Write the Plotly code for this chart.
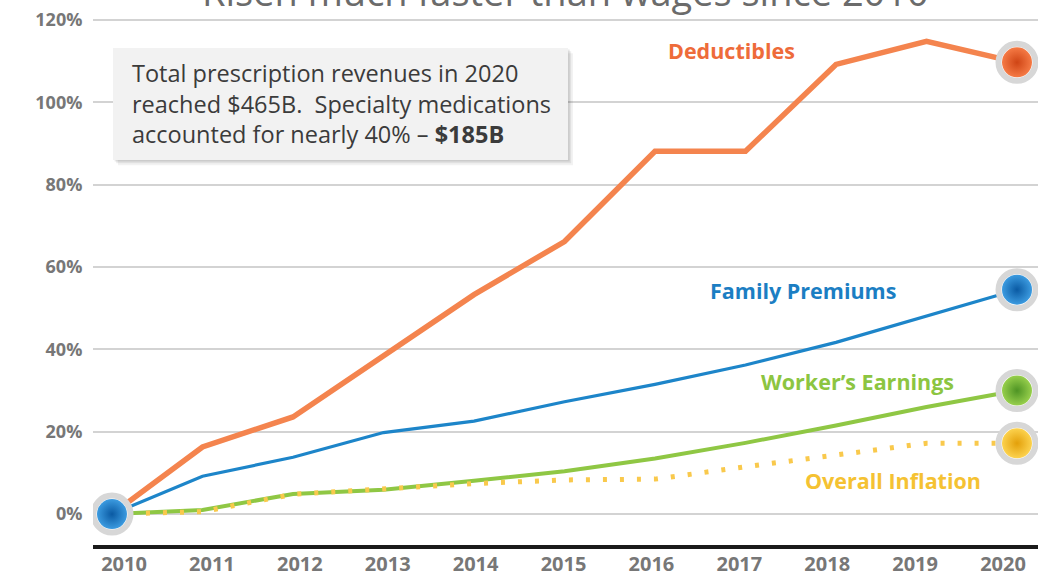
import plotly.graph_objects as go

# ---------------- data ----------------
years = [2010, 2011, 2012, 2013, 2014, 2015, 2016, 2017, 2018, 2019, 2020]
deductibles = [0, 16.3, 23.6, 38.5, 53.3, 66.2, 88.1, 88.1, 109.2, 114.8, 109.7]
family_premiums = [0, 9.2, 13.8, 19.8, 22.6, 27.3, 31.5, 36.2, 41.7, 48.2, 54.5]
workers_earnings = [0, 1.0, 4.9, 5.9, 8.1, 10.4, 13.5, 17.3, 21.5, 26.0, 30.0]
overall_inflation = [0, 0.6, 4.8, 6.2, 7.4, 8.3, 8.5, 11.5, 14.5, 17.2, 17.2]

y_tick_vals = [0, 20, 40, 60, 80, 100, 120]
y_tick_text = ["0%", "20%", "40%", "60%", "80%", "100%", "120%"]
x_tick_text = [str(y) for y in years]

series_names = ["Deductibles", "Family Premiums", "Worker\u2019s Earnings", "Overall Inflation"]

title_text = "Risen much faster than wages since 2010"
box_lines = [
    "Total prescription revenues in 2020",
    "reached $465B.  Specialty medications",
    "accounted for nearly 40% \u2013 <b>$185B</b>",
]

# ---------------- styles ----------------
ORANGE = "#F4844E"
BLUE = "#1D85C9"
GREEN = "#8FC744"
YELLOW = "#F9C94C"
FONT = "Open Sans"

fig = go.Figure()

fig.add_trace(go.Scatter(x=years, y=deductibles, mode="lines",
                         line=dict(color=ORANGE, width=5.5), hoverinfo="skip"))
fig.add_trace(go.Scatter(x=years, y=family_premiums, mode="lines",
                         line=dict(color=BLUE, width=3.2), hoverinfo="skip"))
fig.add_trace(go.Scatter(x=years, y=workers_earnings, mode="lines",
                         line=dict(color=GREEN, width=4), hoverinfo="skip"))
fig.add_trace(go.Scatter(x=years, y=overall_inflation, mode="lines",
                         line=dict(color=YELLOW, width=5, dash="4px,13px"),
                         hoverinfo="skip"))

# carrier (draws nothing) so the year-label axis is rendered
fig.add_trace(go.Scatter(x=years, y=[None] * len(years), mode="lines",
                         xaxis="x2", yaxis="y", hoverinfo="skip",
                         line=dict(width=0)))

# end-point "ball" markers
balls = [
    (years[0], family_premiums[0], "#3C9BE0", "#0A5AA3"),
    (years[-1], deductibles[-1], "#F57A45", "#CF4515"),
    (years[-1], family_premiums[-1], "#3C9BE0", "#0A5AA3"),
    (years[-1], workers_earnings[-1], "#97CF4C", "#4E9424"),
    (years[-1], overall_inflation[-1], "#FCD24E", "#E3A00A"),
]
for bx, by, c_in, c_out in balls:
    fig.add_trace(go.Scatter(
        x=[bx], y=[by], mode="markers", hoverinfo="skip",
        marker=dict(size=37, color="white", line=dict(color="#D7D7D7", width=6))))
    fig.add_trace(go.Scatter(
        x=[bx], y=[by], mode="markers", hoverinfo="skip",
        marker=dict(size=30, color=c_in, line=dict(width=0),
                    gradient=dict(type="radial", color=c_out))))

# info box (shadow + box) in data coordinates
shapes = []
bx0, bx1, by0, by1 = 2010.011, 2015.039, 86.0, 113.2
for dx, dy, op in [(0.055, -1.3, 0.05), (0.035, -0.8, 0.07), (0.018, -0.4, 0.09)]:
    shapes.append(dict(type="rect", xref="x", yref="y", layer="above",
                       x0=bx0 + dx, x1=bx1 + dx, y0=by0 + dy, y1=by1 + dy,
                       fillcolor=f"rgba(0,0,0,{op})", line=dict(width=0)))
shapes.append(dict(type="rect", xref="x", yref="y", layer="above",
                   x0=bx0, x1=bx1, y0=by0, y1=by1,
                   fillcolor="#F2F2F2", line=dict(width=0)))

annotations = [dict(x=2010.199, y=99.6, xref="x", yref="y",
                    text="<br>".join(box_lines),
                    showarrow=False, xanchor="left", yanchor="middle", align="left",
                    font=dict(family=FONT, size=23.5, color="#3B3B3B"))]

label_specs = [
    (series_names[0], 2016.84, 112.6, "#EE6B3A"),
    (series_names[1], 2017.635, 54.4, "#1B7EC3"),
    (series_names[2], 2018.232, 32.3, "#8CC541"),
    (series_names[3], 2018.63, 8.2, "#F5C232"),
]
for txt, lx, ly, col in label_specs:
    annotations.append(dict(x=lx, y=ly, xref="x", yref="y", text=txt,
                            showarrow=False, xanchor="center", yanchor="middle",
                            font=dict(family=FONT, size=21.5, color=col, weight=700)))

annotations.append(dict(x=0.5, y=1.045, xref="paper", yref="paper", text=title_text,
                        showarrow=False, xanchor="center", yanchor="middle",
                        font=dict(family=FONT, size=38, color="#6B6B6B")))

fig.update_layout(
    width=1044, height=577,
    margin=dict(l=93, r=6, t=15, b=32, autoexpand=False),
    paper_bgcolor="white", plot_bgcolor="white",
    showlegend=False,
    shapes=shapes,
    annotations=annotations,
    xaxis=dict(range=[2009.79, 2020.232], showgrid=False, zeroline=False,
               showticklabels=False, ticks="", showline=True, automargin=False,
               linecolor="#1A1A1A", linewidth=4, fixedrange=True),
    xaxis2=dict(overlaying="x", anchor="y", side="bottom", automargin=False,
                range=[2009.647, 2020.398], tickmode="array",
                tickvals=years, ticktext=x_tick_text,
                showgrid=False, zeroline=False, showline=False,
                ticks="outside", ticklen=1, tickcolor="rgba(0,0,0,0)",
                tickfont=dict(family=FONT, size=20, color="#777777", weight=700),
                fixedrange=True),
    yaxis=dict(range=[-7.5, 121.2], tickmode="array", tickvals=y_tick_vals,
               ticktext=y_tick_text, showgrid=True, gridcolor="#D3D3D3",
               gridwidth=2, zeroline=False, showline=False, automargin=False,
               ticks="outside", ticklen=6, tickcolor="rgba(0,0,0,0)",
               tickfont=dict(family=FONT, size=18, color="#777777", weight=700),
               fixedrange=True),
)

fig.write_html("out.html", config={"displayModeBar": False},
               post_script="document.body.style.margin='0';document.body.style.overflow='hidden';")
